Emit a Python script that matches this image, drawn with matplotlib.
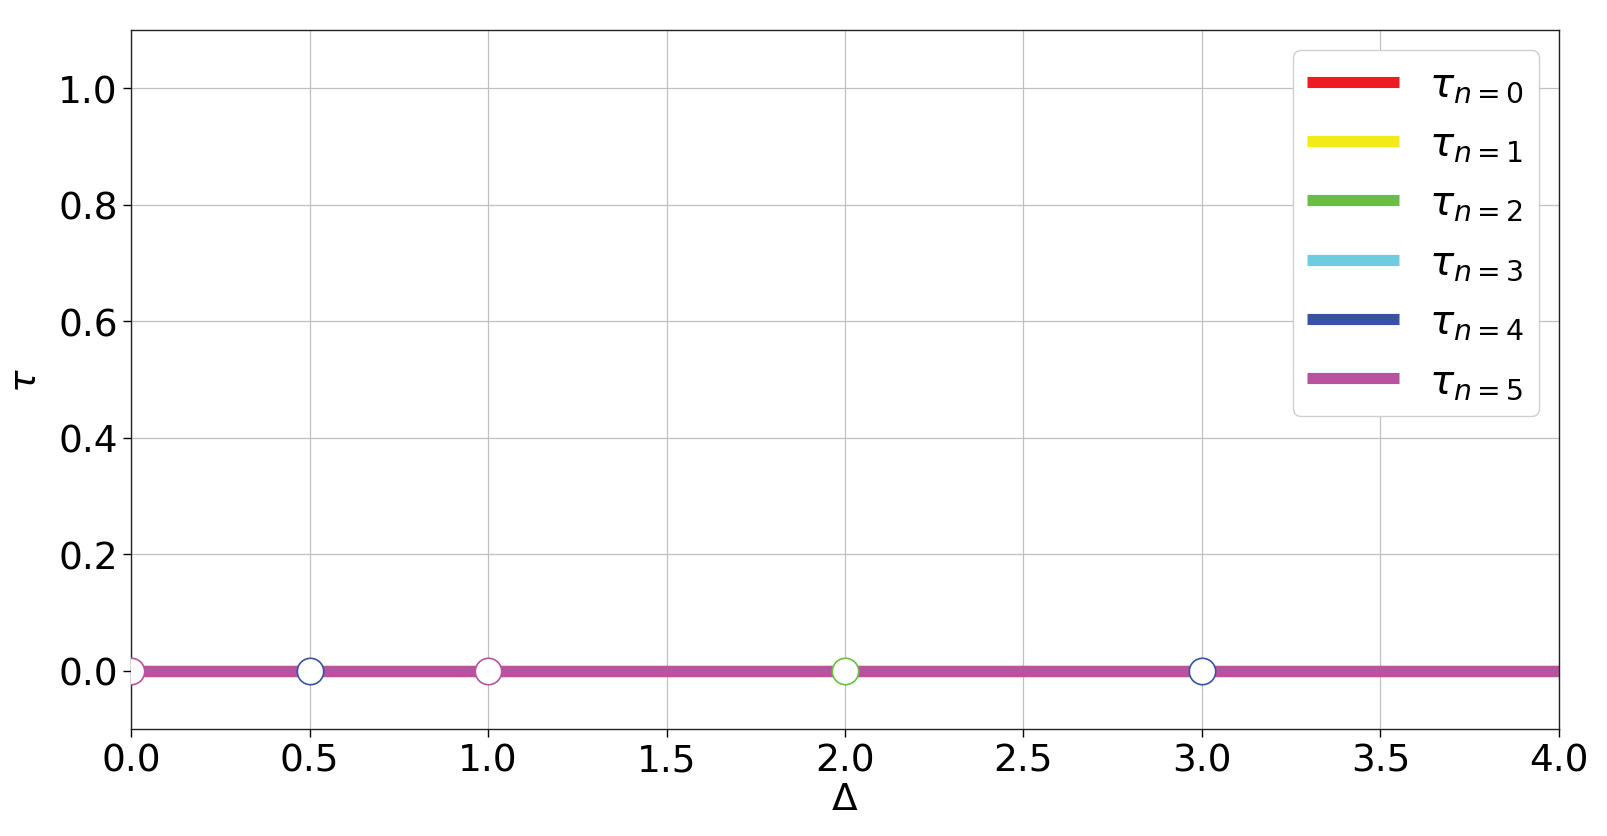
import matplotlib
matplotlib.use("Agg")
import matplotlib.pyplot as plt

# Data
delta = [0.0, 4.0]
series_labels = [r"$\tau_{n=0}$", r"$\tau_{n=1}$", r"$\tau_{n=2}$",
                 r"$\tau_{n=3}$", r"$\tau_{n=4}$", r"$\tau_{n=5}$"]
tau_values = [
    [0.0, 0.0],
    [0.0, 0.0],
    [0.0, 0.0],
    [0.0, 0.0],
    [0.0, 0.0],
    [0.0, 0.0],
]
colors = ["#ED1C24", "#F2EB17", "#6ABD45", "#6DCCDD", "#3953A4", "#B9529F"]

# open-circle markers (discontinuity points)
marker_x = [0.0, 0.5, 1.0, 2.0, 3.0]
marker_y = [0.0, 0.0, 0.0, 0.0, 0.0]
marker_series = [5, 4, 5, 2, 4]

xticks = [0.0, 0.5, 1.0, 1.5, 2.0, 2.5, 3.0, 3.5, 4.0]
yticks = [0.0, 0.2, 0.4, 0.6, 0.8, 1.0]

fig = plt.figure(figsize=(16.08, 8.37), dpi=100)
ax = fig.add_axes([0.0815, 0.128, 0.888, 0.835])

for vals, lab, c in zip(tau_values, series_labels, colors):
    ax.plot(delta, vals, color=c, lw=8, label=lab, solid_capstyle="butt", zorder=2)

for mx, my, s in zip(marker_x, marker_y, marker_series):
    ax.plot([mx], [my], marker="o", ms=19, mfc="white", mec=colors[s],
            mew=1.2, linestyle="none", zorder=3, clip_on=True)

ax.set_xlim(0, 4)
ax.set_ylim(-0.1, 1.1)
ax.set_xticks(xticks)
ax.set_yticks(yticks)
ax.set_xticklabels([f"{t:.1f}" for t in xticks])
ax.set_yticklabels([f"{t:.1f}" for t in yticks])
ax.tick_params(labelsize=27, length=6, width=1)
ax.grid(True, color="#c0c0c0", lw=0.9)
ax.set_axisbelow(True)
ax.set_xlabel(r"$\Delta$", fontsize=27, labelpad=2)
ax.set_ylabel(r"$\tau$", fontsize=27, labelpad=10)
for sp in ax.spines.values():
    sp.set_linewidth(1.0)
    sp.set_color("#222222")

leg = ax.legend(loc="upper right", fontsize=29, handlelength=2.28,
                labelspacing=0.48, borderpad=0.36, handletextpad=0.75,
                framealpha=1.0, edgecolor="#d0d0d0", fancybox=True)

fig.savefig("out.png", dpi=100)
